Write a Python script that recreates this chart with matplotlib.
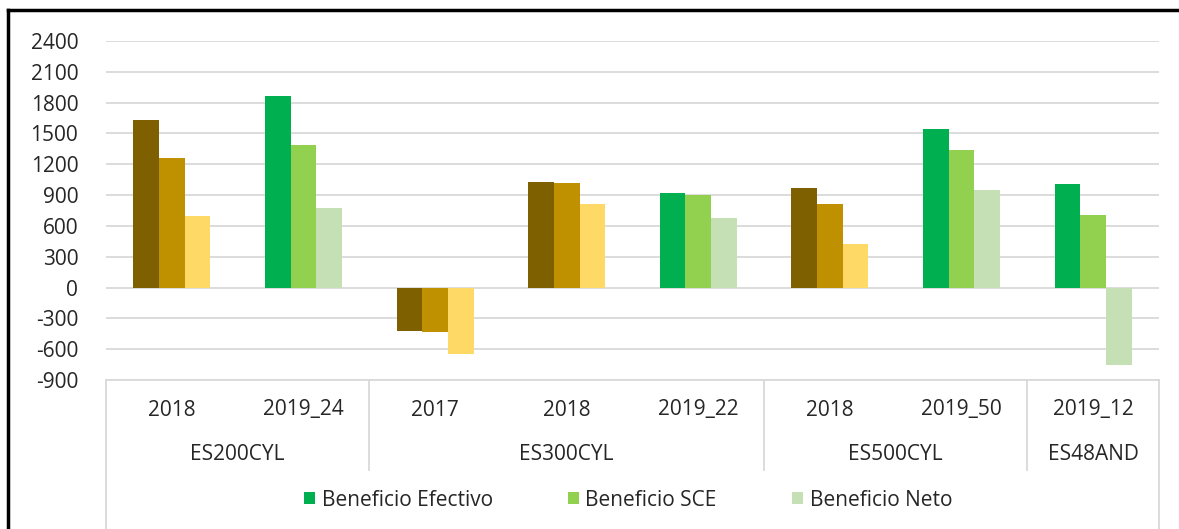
import matplotlib
matplotlib.use("Agg")
import numpy as np
from matplotlib import pyplot as plt
from matplotlib.patches import Patch
from matplotlib.lines import Line2D

plt.rcParams['font.family'] = ['Open Sans', 'DejaVu Sans']
plt.rcParams['axes.unicode_minus'] = False

# data
years = ["2018", "2019_24", "2017", "2018", "2019_22", "2018", "2019_50", "2019_12"]
plants = ["ES200CYL", "ES300CYL", "ES500CYL", "ES48AND"]
plant_sizes = [2, 3, 2, 1]
efectivo = [1630, 1860, -420, 1030, 920, 965, 1545, 1010]
sce = [1260, 1390, -430, 1015, 900, 810, 1335, 710]
neto = [700, 775, -650, 810, 680, 425, 950, -750]
series_names = ["Beneficio Efectivo", "Beneficio SCE", "Beneficio Neto"]

green = ["#00B050", "#92D050", "#C5E0B4"]
brown = ["#7F6000", "#BF9000", "#FFD966"]

W, H = 1179, 529
fig = plt.figure(figsize=(W / 100, H / 100), dpi=100)
ax = fig.add_axes([106 / W, (H - 380) / H, (1159 - 106) / W, (380 - 41) / H])

x = np.arange(len(years)) + 0.5
bw = 0.195
for k, vals in enumerate([efectivo, sce, neto]):
    cols = [green[k] if y.startswith("2019") else brown[k] for y in years]
    ax.bar(x + (k - 1) * bw, vals, bw, color=cols, zorder=2)

fs = 15
ax.set_xlim(0, len(years))
ax.set_ylim(-900, 2400)
ax.set_yticks(np.arange(-900, 2401, 300))
ax.grid(axis='y', color='#D9D9D9', linewidth=1.3, zorder=0)
ax.tick_params(axis='y', length=0, labelsize=fs, pad=20, labelcolor='#262626')
ax.set_xticks([])
for s in ['top', 'right', 'left']:
    ax.spines[s].set_visible(False)
ax.spines['bottom'].set_color('#D9D9D9')
ax.spines['bottom'].set_linewidth(1.3)

# two-level category axis
px = 1 / 339.0
for xi, y in zip(x, years):
    ax.text(xi, -30 * px, y, transform=ax.get_xaxis_transform(), ha='center', va='center',
            fontsize=fs, color='#262626')
edges = np.concatenate([[0], np.cumsum(plant_sizes)])
for i, name in enumerate(plants):
    mid = (edges[i] + edges[i + 1]) / 2
    ax.text(mid, -75 * px, name, transform=ax.get_xaxis_transform(), ha='center', va='center',
            fontsize=fs, color='#262626')
for e in edges:
    low = -150 * px if e in (0, len(years)) else -90 * px
    ax.plot([e, e], [0, low], transform=ax.get_xaxis_transform(), color='#D9D9D9',
            linewidth=1.3, clip_on=False)

handles = [Patch(facecolor=c, edgecolor='none') for c in green]
fig.legend(handles, series_names, loc='center', bbox_to_anchor=(628 / W, (H - 500) / H),
           ncol=3, frameon=False, fontsize=fs, handlelength=0.55, handleheight=0.55,
           handletextpad=0.3, columnspacing=3.6, labelcolor='#262626')

# outer frame (only the top and left edges are inside the crop)
fig.add_artist(Line2D([8 / W, 1], [(H - 10) / H, (H - 10) / H], color='black', linewidth=2.5))
fig.add_artist(Line2D([8 / W, 8 / W], [0, (H - 10) / H], color='black', linewidth=2.5))

fig.savefig("out.png", dpi=100)
